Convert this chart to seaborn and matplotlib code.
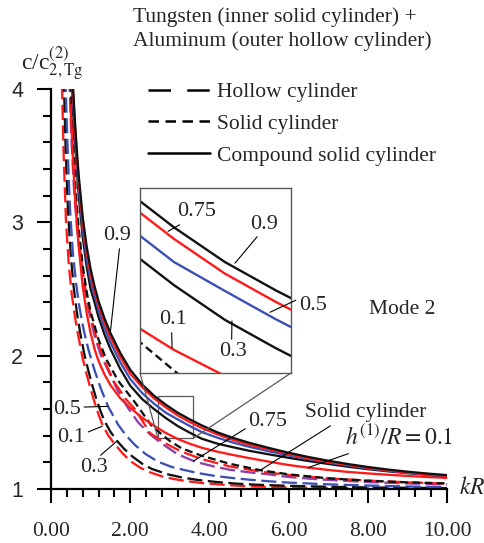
import numpy as np
import pandas as pd
import matplotlib
matplotlib.use("Agg")
import matplotlib.pyplot as plt
import seaborn as sns
from mpl_toolkits.axes_grid1.inset_locator import mark_inset
from matplotlib.lines import Line2D
from matplotlib.ticker import MultipleLocator, FormatStrFormatter

# ---------------- data ----------------
# compound solid cylinder (solid lines), common kR grid
xs_solid = [0.5, 0.55, 0.6, 0.65, 0.7, 0.8, 0.9, 1.0, 1.1, 1.2, 1.35, 1.5, 1.75, 2.0,
            2.3, 2.6, 2.9, 3.2, 3.5, 3.8, 4.2, 4.6, 5.0, 5.5, 6.0, 6.5, 7.0, 7.5,
            8.0, 8.5, 9.0, 9.5, 10.0]
solid_09 = [4.40, 4.05, 3.78, 3.55, 3.35, 3.04, 2.82, 2.65, 2.52, 2.41, 2.28, 2.17, 2.02, 1.895,
            1.785, 1.70, 1.632, 1.572, 1.523, 1.478, 1.425, 1.383, 1.347, 1.308, 1.272, 1.240, 1.212, 1.187,
            1.165, 1.146, 1.130, 1.116, 1.104]
solid_075 = [4.36, 4.01, 3.74, 3.51, 3.31, 3.00, 2.78, 2.61, 2.49, 2.38, 2.25, 2.14, 1.99, 1.865,
             1.765, 1.68, 1.612, 1.552, 1.503, 1.458, 1.41, 1.368, 1.332, 1.298, 1.262, 1.23, 1.202, 1.181,
             1.159, 1.14, 1.124, 1.11, 1.098]
solid_05 = [4.31, 3.96, 3.69, 3.46, 3.26, 2.95, 2.73, 2.56, 2.45, 2.34, 2.21, 2.10, 1.95, 1.825,
            1.72, 1.64, 1.572, 1.522, 1.473, 1.428, 1.385, 1.348, 1.317, 1.283, 1.252, 1.223, 1.198, 1.176,
            1.155, 1.137, 1.122, 1.109, 1.098]
solid_03 = [4.25, 3.90, 3.63, 3.40, 3.20, 2.89, 2.67, 2.50, 2.40, 2.29, 2.16, 2.05, 1.90, 1.775,
            1.675, 1.60, 1.532, 1.472, 1.423, 1.378, 1.34, 1.313, 1.287, 1.26, 1.234, 1.21, 1.188, 1.167,
            1.149, 1.133, 1.119, 1.107, 1.096]
solid_01 = [3.85, 3.50, 3.22, 3.00, 2.82, 2.52, 2.32, 2.17, 2.05, 1.96, 1.86, 1.78, 1.68, 1.61,
            1.535, 1.475, 1.420, 1.375, 1.340, 1.310, 1.280, 1.255, 1.232, 1.205, 1.180, 1.160, 1.143, 1.128,
            1.117, 1.107, 1.098, 1.090, 1.083]

# hollow cylinder (long dashes)
x_h01 = [0.25, 0.28, 0.32, 0.38, 0.45, 0.52, 0.6, 0.7, 0.8, 0.9, 1.0, 1.1, 1.2, 1.3, 1.45, 1.6,
         1.8, 2.0, 2.25, 2.5, 2.8, 3.1, 3.4, 3.8, 4.2, 4.6, 5.0, 6, 7, 8, 9, 10]
y_h01 = [4.5, 4.0, 3.5, 3.0, 2.68, 2.47, 2.3, 2.13, 1.98, 1.86, 1.75, 1.65, 1.56, 1.48, 1.40, 1.34,
         1.27, 1.21, 1.16, 1.125, 1.095, 1.075, 1.06, 1.045, 1.035, 1.027, 1.02, 1.012, 1.008, 1.005, 1.003, 1.002]
x_h03 = [0.3, 0.33, 0.37, 0.43, 0.5, 0.57, 0.65, 0.75, 0.85, 0.95, 1.05, 1.15, 1.25, 1.35, 1.5, 1.67,
         1.85, 2.05, 2.3, 2.55, 2.95, 3.3, 3.7, 4.2, 4.7, 5.2, 6, 7, 8, 9, 10]
y_h03 = [4.4, 4.0, 3.55, 3.08, 2.75, 2.52, 2.33, 2.15, 2.0, 1.88, 1.77, 1.67, 1.585, 1.51, 1.43, 1.36,
         1.30, 1.245, 1.19, 1.15, 1.11, 1.087, 1.068, 1.052, 1.04, 1.032, 1.024, 1.017, 1.012, 1.009, 1.007]
x_h05 = [0.34, 0.37, 0.42, 0.48, 0.55, 0.63, 0.72, 0.82, 0.95, 1.1, 1.25, 1.44, 1.7, 1.9, 2.12, 2.4,
         2.7, 3.05, 3.4, 3.7, 4.1, 4.5, 5.0, 5.5, 6, 7, 8, 9, 10]
y_h05 = [4.4, 4.0, 3.55, 3.1, 2.78, 2.55, 2.36, 2.2, 2.04, 1.89, 1.76, 1.62, 1.48, 1.40, 1.33, 1.26,
         1.205, 1.165, 1.14, 1.12, 1.10, 1.085, 1.07, 1.058, 1.048, 1.035, 1.026, 1.019, 1.015]
x_h075 = [0.44, 0.47, 0.52, 0.58, 0.66, 0.75, 0.85, 0.95, 1.1, 1.25, 1.49, 1.7, 1.94, 2.2, 2.5, 2.8,
          3.2, 3.64, 4.1, 4.5, 5.0, 5.5, 6, 6.5, 7, 7.5, 8, 9, 10]
y_h075 = [4.4, 4.0, 3.6, 3.25, 2.95, 2.7, 2.5, 2.34, 2.15, 2.01, 1.86, 1.73, 1.61, 1.5, 1.41, 1.34,
          1.26, 1.205, 1.17, 1.145, 1.125, 1.11, 1.09, 1.078, 1.068, 1.06, 1.052, 1.042, 1.035]
x_h09 = [0.46, 0.49, 0.54, 0.6, 0.68, 0.78, 0.88, 0.98, 1.15, 1.35, 1.6, 1.9, 2.12, 2.5, 2.9, 3.3,
         3.8, 4.5, 5.3, 6, 7, 8, 9, 10]
y_h09 = [4.4, 4.0, 3.6, 3.25, 2.95, 2.68, 2.48, 2.33, 2.13, 1.96, 1.8, 1.67, 1.6, 1.42, 1.34, 1.28,
         1.225, 1.17, 1.13, 1.105, 1.08, 1.063, 1.05, 1.04]

# solid (homogeneous) cylinder (short dashes)
x_sc = [0.47, 0.5, 0.55, 0.62, 0.7, 0.8, 0.9, 1.0, 1.2, 1.4, 1.7, 2.12, 2.55, 3.0, 3.3, 3.8, 4.5,
        5.3, 6, 7, 8, 9, 10]
y_sc = [4.4, 4.05, 3.65, 3.25, 2.95, 2.68, 2.48, 2.33, 2.12, 1.97, 1.81, 1.65, 1.47, 1.36, 1.305, 1.25,
        1.19, 1.14, 1.11, 1.08, 1.062, 1.05, 1.042]

x_ticks = [0, 2, 4, 6, 8, 10]
y_ticks = [1, 2, 3, 4]

RED = "#ff1a1a"
BLUE = "#3c4fb4"
PURPLE = "#8e3fa8"
BLACK = "#111111"

# ---------------- style ----------------
sns.set_theme(style="ticks")
plt.rcParams["font.family"] = ["Liberation Serif", "DejaVu Serif"]
plt.rcParams["mathtext.fontset"] = "stix"

W, H = 484, 543
fig = plt.figure(figsize=(W / 100, H / 100), dpi=100)

FS = 15.5


def fx(px):
    return px / W


def fy(py):
    return 1 - py / H


ax = fig.add_axes([fx(51), fy(489), fx(447) - fx(51), fy(89) - fy(489)])
axins = fig.add_axes([fx(140), fy(373), fx(291) - fx(140), fy(188) - fy(373)])

LONG = (6.6, 2.4)
SHORT = (3.4, 1.9)

dashed = [
    (x_h01, y_h01, RED, LONG),
    (x_h03, y_h03, BLACK, LONG),
    (x_h05, y_h05, BLUE, LONG),
    (x_h075, y_h075, PURPLE, LONG),
    (x_h09, y_h09, RED, LONG),
    (x_sc, y_sc, BLACK, SHORT),
]
solids = [
    (xs_solid, solid_01, RED),
    (xs_solid, solid_03, BLACK),
    (xs_solid, solid_05, BLUE),
    (xs_solid, solid_075, RED),
    (xs_solid, solid_09, BLACK),
]

for a, lw in ((ax, 1.65), (axins, 1.7)):
    for xv, yv, c, d in dashed:
        sns.lineplot(x=xv, y=yv, color=c, ax=a, lw=lw, estimator=None, sort=False)
        a.lines[-1].set_dashes(d)
    for xv, yv, c in solids:
        sns.lineplot(x=xv, y=yv, color=c, ax=a, lw=lw, estimator=None, sort=False)

# main axes formatting
ax.set_xlim(0, 10)
ax.set_ylim(1, 4)
ax.set_xticks(x_ticks)
ax.set_yticks(y_ticks)
ax.xaxis.set_minor_locator(MultipleLocator(0.4))
ax.yaxis.set_minor_locator(MultipleLocator(0.2))
ax.xaxis.set_major_formatter(FormatStrFormatter("%.2f"))
ax.yaxis.set_major_formatter(FormatStrFormatter("%d"))
ax.tick_params(which="major", length=10, width=1.5, direction="out", color="black")
ax.tick_params(which="minor", length=5.5, width=1.5, direction="out", color="black")
ax.tick_params(axis="x", labelsize=FS, pad=14)
ax.tick_params(axis="y", labelsize=FS, pad=10)
for lab in ax.get_yticklabels():
    lab.set_fontfamily("Liberation Sans")
sns.despine(ax=ax)
for s in ("left", "bottom"):
    ax.spines[s].set_linewidth(1.6)
    ax.spines[s].set_color("black")
ax.set_xlabel("")
ax.set_ylabel("")
ax.patch.set_alpha(0)

# inset formatting
axins.set_xlim(2.70, 3.59)
axins.set_ylim(1.38, 1.70)
axins.set_xticks([])
axins.set_yticks([])
axins.set_xlabel("")
axins.set_ylabel("")
for s in axins.spines.values():
    s.set_color("0.35")
    s.set_linewidth(1.0)
    s.set_visible(True)
mark_inset(ax, axins, loc1=3, loc2=4, fc="none", ec="0.35", lw=0.9)

# ---------------- texts ----------------
fig.text(fx(133), fy(7), "Tungsten (inner solid cylinder) +\nAluminum (outer hollow cylinder)",
         ha="left", va="top", fontsize=FS, linespacing=1.3)
fig.text(fx(21), fy(70), r"c/c$^{(2)}_{2,\mathrm{Tg}}$", ha="left", va="baseline", fontsize=17)
fig.text(fx(472), fy(488), r"$kR$", ha="center", va="center", fontsize=17)
fig.text(fx(402), fy(309), "Mode 2", ha="center", va="center", fontsize=FS)

handles = [Line2D([], [], color="black", lw=1.8, dashes=(9, 6.5)),
           Line2D([], [], color="black", lw=1.8, dashes=(4.2, 2.6)),
           Line2D([], [], color="black", lw=1.8)]
leg = fig.legend(handles, ["Hollow cylinder", "Solid cylinder", "Compound solid cylinder"],
                 loc="upper left", bbox_to_anchor=(fx(148), fy(82)), frameon=False,
                 fontsize=FS, handlelength=2.9, handletextpad=0.3, labelspacing=0.55,
                 borderpad=0, borderaxespad=0)

line_kw = dict(arrowstyle="-", color="black", lw=0.8, shrinkA=0, shrinkB=0)


def note(a, text, txy_px, target, relpos, fs=16):
    kw = dict(line_kw)
    kw["relpos"] = relpos
    a.annotate(text, xy=target, xycoords="data",
               xytext=(fx(txy_px[0]), fy(txy_px[1])), textcoords="figure fraction",
               ha="center", va="center", fontsize=fs, arrowprops=kw, annotation_clip=False)


# main-plot labels
note(ax, "0.9", (117, 236), (1.50, 2.18), (0.6, 0.0))
note(ax, "0.5", (67, 410), (1.44, 1.62), (1.0, 0.65))
note(ax, "0.1", (71, 438), (1.29, 1.47), (1.0, 0.75))
note(ax, "0.3", (94, 468), (1.67, 1.36), (0.6, 1.0))
note(ax, "0.75", (268, 422), (3.60, 1.21), (0.0, 0.25))
note(ax, "Solid cylinder", (366, 413), (5.28, 1.14), (0.25, 0.0), fs=FS)
note(ax, r"$h^{(1)}/R = 0.1$", (399, 438), (6.49, 1.16), (0.12, 0.0), fs=17)

# inset labels
note(axins, "0.75", (197, 212), (2.865, 1.625), (0.2, 0.0))
note(axins, "0.9", (264, 224), (3.26, 1.570), (0.35, 0.0))
note(axins, "0.5", (313, 305), (3.466, 1.485), (0.1, 0.9))
note(axins, "0.1", (173, 320), (2.889, 1.423), (0.45, 0.0))
note(axins, "0.3", (233, 352), (3.242, 1.470), (0.45, 1.0))

fig.savefig("out.png", dpi=100)
